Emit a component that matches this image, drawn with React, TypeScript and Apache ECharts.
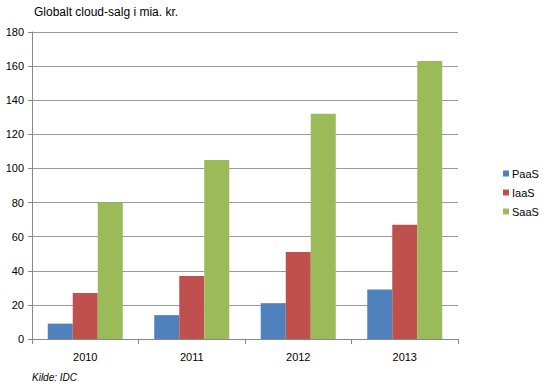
import React, { useEffect, useRef } from "react";
import * as echarts from "echarts";

const categories = ["2010", "2011", "2012", "2013"];
const paas = [9, 14, 21, 29];
const iaas = [27, 37, 51, 67];
const saas = [80, 105, 132, 163];
const yTicks = { min: 0, max: 180, interval: 20 };
const title = "Globalt cloud-salg i mia. kr.";
const source = "Kilde: IDC";

export default function App() {
  const ref = useRef<HTMLDivElement>(null);
  useEffect(() => {
    if (!ref.current) return;
    const chart = echarts.init(ref.current, undefined, { renderer: "svg" });
    const font = "Liberation Sans, Arial, sans-serif";
    chart.setOption({
      animation: false,
      backgroundColor: "#ffffff",
      textStyle: { fontFamily: font },
      graphic: [
        {
          type: "text",
          left: 34,
          top: 6,
          style: { text: title, fontSize: 12, fill: "#000", fontFamily: font },
        },
        {
          type: "text",
          left: 32,
          top: 372,
          style: { text: source, fontSize: 10, fontStyle: "italic", fill: "#000", fontFamily: font },
        },
      ],
      legend: {
        orient: "vertical",
        left: 498,
        top: 163,
        itemWidth: 6,
        itemHeight: 6,
        itemGap: 8,
        icon: "rect",
        textStyle: { fontSize: 11, color: "#000", fontFamily: font, padding: [0, 0, 0, -2] },
        data: ["PaaS", "IaaS", "SaaS"],
      },
      grid: { left: 32, right: 92, top: 32, bottom: 53, containLabel: false },
      xAxis: {
        type: "category",
        data: categories,
        axisLine: { lineStyle: { color: "#888" } },
        axisTick: { show: true, alignWithLabel: false, length: 5, lineStyle: { color: "#888" } },
        axisLabel: { fontSize: 11, color: "#000", margin: 12, fontFamily: font },
      },
      yAxis: {
        type: "value",
        min: yTicks.min,
        max: yTicks.max,
        interval: yTicks.interval,
        axisLine: { show: true, lineStyle: { color: "#888" } },
        axisTick: { show: true, length: 4, lineStyle: { color: "#888" } },
        splitLine: { lineStyle: { color: "#999" } },
        axisLabel: { fontSize: 11, color: "#000", margin: 8, fontFamily: font },
      },
      series: [
        { name: "PaaS", type: "bar", data: paas, barWidth: 25, barGap: "0%", itemStyle: { color: "#4F81BD" } },
        { name: "IaaS", type: "bar", data: iaas, barWidth: 25, barGap: "0%", itemStyle: { color: "#C0504D" } },
        { name: "SaaS", type: "bar", data: saas, barWidth: 25, barGap: "0%", itemStyle: { color: "#9BBB59" } },
      ],
    });
    return () => chart.dispose();
  }, []);
  return (
    <div
      ref={ref}
      style={{ width: 550, height: 392, position: "absolute", left: 0, top: 0 }}
    />
  );
}
